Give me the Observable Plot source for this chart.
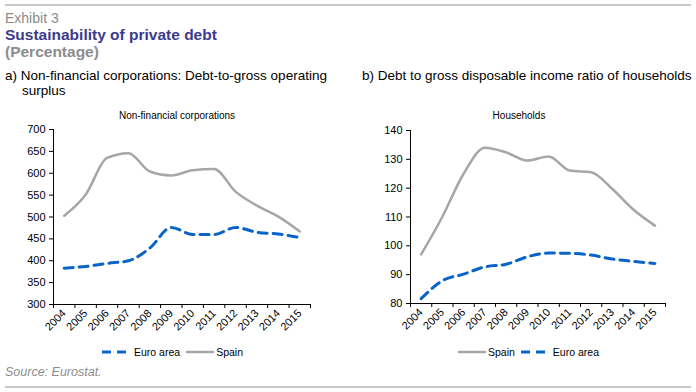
<!DOCTYPE html>
<html><head><meta charset="utf-8">
<script src="https://cdn.jsdelivr.net/npm/d3@7"></script>
<script src="https://cdn.jsdelivr.net/npm/@observablehq/plot@0.6"></script>
<style>
body{margin:0;width:696px;height:392px;position:relative;font-family:"Liberation Sans",Arial,sans-serif;background:#fff;overflow:hidden}
.abs{position:absolute;white-space:nowrap;line-height:1}
.chart{position:absolute;top:100px}
.leg{position:absolute;top:346px;height:12px;display:flex;align-items:center;font-size:10.5px;color:#000;white-space:nowrap}
.leg svg{display:block}
</style></head><body>
<div class="abs" style="left:5px;top:4px;width:686px;border-top:2px solid #c8c8c8"></div>
<div class="abs" style="left:5px;top:11px;font-size:14px;color:#8c8c8c">Exhibit 3</div>
<div class="abs" style="left:5px;top:27px;font-size:15.5px;font-weight:bold;color:#3b3a8c">Sustainability of private debt</div>
<div class="abs" style="left:5px;top:44px;font-size:15.5px;font-weight:bold;color:#8c8c8c">(Percentage)</div>
<div class="abs" style="left:5px;top:69px;font-size:13.5px;color:#000">a) Non-financial corporations: Debt-to-gross operating</div>
<div class="abs" style="left:22px;top:84px;font-size:13.5px;color:#000">surplus</div>
<div class="abs" style="left:362px;top:69px;font-size:13.5px;color:#000">b) Debt to gross disposable income ratio of households</div>
<div class="abs" style="left:177px;top:111px;font-size:10px;color:#000;transform:translateX(-50%)">Non-financial corporations</div>
<div class="abs" style="left:519px;top:111px;font-size:10px;color:#000;transform:translateX(-50%)">Households</div>
<div id="c1" class="chart" style="left:0px"></div>
<div id="c2" class="chart" style="left:348px"></div>
<div class="leg" style="left:102px">
  <svg width="27" height="12"><line x1="0" y1="6" x2="27" y2="6" stroke="#0a64c8" stroke-width="3" stroke-dasharray="9,6"/></svg>
  <span style="margin-left:5px">Euro area</span>
  <svg width="28" height="12" style="margin-left:6px"><line x1="0" y1="6" x2="28" y2="6" stroke="#a6a6a6" stroke-width="2.5"/></svg>
  <span style="margin-left:2px">Spain</span>
</div>
<div class="leg" style="left:458px">
  <svg width="28" height="12"><line x1="0" y1="6" x2="28" y2="6" stroke="#a6a6a6" stroke-width="2.5"/></svg>
  <span style="margin-left:2px">Spain</span>
  <svg width="27" height="12" style="margin-left:6px"><line x1="0" y1="6" x2="27" y2="6" stroke="#0a64c8" stroke-width="3" stroke-dasharray="9,6"/></svg>
  <span style="margin-left:5px">Euro area</span>
</div>
<div class="abs" style="left:5px;top:366px;font-size:12.5px;font-style:italic;color:#8c8c8c">Source: Eurostat.</div>
<div class="abs" style="left:5px;top:386px;width:686px;border-top:2px solid #c8c8c8"></div>
<script>
const years = [2004,2005,2006,2007,2008,2009,2010,2011,2012,2013,2014,2015];
const nfcSpain = [503,551,635,646,604,595,607,610,558,526,501,467];
const nfcEuro = [383,387,394,400,429,476,460,460,476,465,461,453];
const hhSpain = [97,110.1,125,134,132.4,129.6,131,126.1,125.5,119.7,112.5,107];
const hhEuro = [81.7,87.9,90.2,92.7,93.6,96.2,97.5,97.4,96.8,95.4,94.6,93.9];
const nfcTicks = [300,350,400,450,500,550,600,650,700];
const hhTicks = [80,90,100,110,120,130,140];

function chart(spain, euro, yTicks, opts) {
  const bounds = [years[0] - 0.5, ...years.map(y => y + 0.5)];
  const yDomain = [yTicks[0], yTicks[yTicks.length - 1]];
  const rows = years.map((y, i) => ({year: y, spain: spain[i], euro: euro[i]}));
  return Plot.plot({
    width: opts.width, height: opts.height,
    marginLeft: opts.mL, marginRight: opts.mR, marginTop: opts.mT, marginBottom: opts.mB,
    style: {fontFamily: "Liberation Sans, Arial, sans-serif", fontSize: "11px", color: "#000", background: "transparent", overflow: "visible"},
    x: {domain: [bounds[0], bounds[bounds.length - 1]]},
    y: {domain: yDomain},
    marks: [
      Plot.axisY({ticks: yTicks, tickSize: 4, tickPadding: 4, tickFormat: d => String(d), label: null, stroke: "#000", strokeOpacity: 1}),
      Plot.axisX({ticks: bounds, tickSize: 4, tickFormat: () => "", label: null, stroke: "#000", strokeOpacity: 1}),
      Plot.axisX({ticks: years, tickSize: 0, tickRotate: -45, tickPadding: 7, tickFormat: d => String(d), label: null, fontSize: 11}),
      Plot.ruleX([bounds[0]], {stroke: "#000"}),
      Plot.ruleY([yDomain[0]], {stroke: "#000"}),
      Plot.line(rows, {x: "year", y: "spain", stroke: "#a6a6a6", strokeWidth: 2.5, curve: "monotone-x"}),
      Plot.line(rows, {x: "year", y: "euro", stroke: "#0a64c8", strokeWidth: 3, strokeDasharray: "9,6", curve: "monotone-x"})
    ]
  });
}

document.getElementById("c1").append(chart(nfcSpain, nfcEuro, nfcTicks, {width: 348, height: 244, mL: 53, mR: 38, mT: 29, mB: 40}));
document.getElementById("c2").append(chart(hhSpain, hhEuro, hhTicks, {width: 348, height: 243, mL: 62, mR: 31, mT: 30, mB: 40}));
</script>
</body></html>
